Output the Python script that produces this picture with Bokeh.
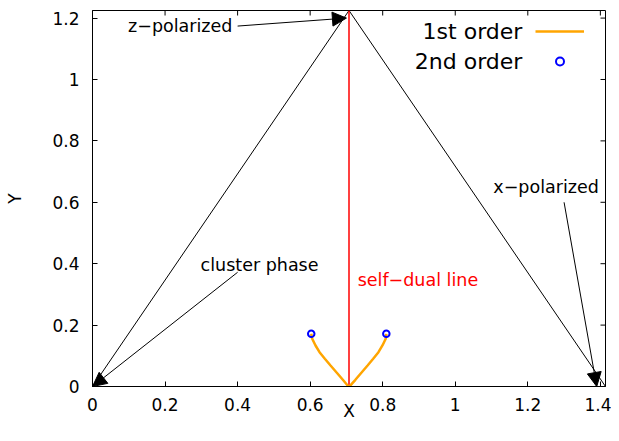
import math
from bokeh.plotting import figure
from bokeh.models import (Range1d, FixedTicker, Arrow, NormalHead,
                          ColumnDataSource, Legend, LegendItem)
from bokeh.core.properties import value
from bokeh.embed import file_html
from bokeh.resources import INLINE

# ---------------- data ----------------
x_max = 1.4142
y_max = 1.2247

triangle_x = [0.0, 0.7071, 1.4142]
triangle_y = [0.0, 1.2247, 0.0]

selfdual_x = [0.7071, 0.7071]
selfdual_y = [0.0, 1.2247]

first_left_x = [0.603, 0.6057, 0.6148, 0.6259, 0.6405, 0.6562, 0.6747, 0.6901, 0.705, 0.7071]
first_left_y = [0.1717, 0.1554, 0.1336, 0.1117, 0.0902, 0.0684, 0.0433, 0.0218, 0.001, 0.0]
first_right_x = [0.810, 0.8083, 0.7993, 0.7883, 0.7738, 0.7583, 0.7400, 0.7247, 0.7092, 0.7071]
first_right_y = [0.1717, 0.1554, 0.1336, 0.1117, 0.0902, 0.0684, 0.0433, 0.0218, 0.001, 0.0]

second_x = [0.603, 0.810]
second_y = [0.1717, 0.1717]

x_ticks = [0.0, 0.2, 0.4, 0.6, 0.8, 1.0, 1.2, 1.4]
x_tick_labels = ["0", "0.2", "0.4", "0.6", "0.8", "1", "1.2", "1.4"]
y_ticks = [0.0, 0.2, 0.4, 0.6, 0.8, 1.0, 1.2]
y_tick_labels = ["0", "0.2", "0.4", "0.6", "0.8", "1", "1.2"]

arrow_x_start = [0.40, 0.40, 1.30]
arrow_y_start = [1.174, 0.372, 0.60]
arrow_x_end = [0.70, 0.0, 1.39]
arrow_y_end = [1.20, 0.0, 0.0]

label_texts = ["z\u2212polarized", "cluster phase", "x\u2212polarized"]
label_x = [0.098, 0.298, 1.105]
label_y = [1.173, 0.397, 0.649]

selfdual_text = ["self\u2212dual line"]
selfdual_text_x = [0.731]
selfdual_text_y = [0.348]

legend_names = ["1st order", "2nd order"]
legend_text_x = [1.185, 1.185]
legend_text_y = [1.156, 1.059]

FONT = "DejaVu Sans"

# ---------------- figure ----------------
p = figure(width=611, height=425, output_backend="svg", toolbar_location=None,
           x_range=Range1d(0, x_max), y_range=Range1d(0, y_max),
           min_border_left=92, min_border_right=6, min_border_top=10, min_border_bottom=39)
p.grid.visible = False
p.outline_line_color = "black"
p.outline_line_width = 1
p.background_fill_color = "white"
p.border_fill_color = "white"

def style_axis(ax, ticks, labels):
    ax.ticker = FixedTicker(ticks=ticks)
    ax.major_label_overrides = {t: l for t, l in zip(ticks, labels)}
    ax.major_tick_in = 5
    ax.major_tick_out = 0
    ax.minor_tick_line_color = None
    ax.axis_line_color = "black"
    ax.major_tick_line_color = "black"
    ax.major_label_text_font = FONT
    ax.major_label_text_color = "black"
    ax.major_label_text_font_size = "17px"
    ax.axis_label_text_font = FONT
    ax.axis_label_text_font_size = "17px"
    ax.axis_label_text_font_style = "normal"
    ax.axis_label_text_color = "black"

style_axis(p.xaxis[0], x_ticks, x_tick_labels)
style_axis(p.yaxis[0], y_ticks, y_tick_labels)
p.xaxis[0].major_label_standoff = 11
p.yaxis[0].major_label_standoff = 13
p.xaxis[0].axis_label = "X"
p.xaxis[0].axis_label_standoff = -13
p.yaxis[0].axis_label = "Y"
p.yaxis[0].axis_label_standoff = 24

# mirrored inward ticks on top and right edges (clipped to the frame)
p.scatter(x_ticks, [y_max] * len(x_ticks), marker="dash", angle=math.pi / 2, size=10,
          line_color="black", line_width=1)
p.scatter([x_max] * len(y_ticks), y_ticks, marker="dash", size=10,
          line_color="black", line_width=1)

# triangle
p.line(triangle_x, triangle_y, line_color="black", line_width=1)
# self-dual line
p.line(selfdual_x, selfdual_y, line_color="#ff0000", line_width=1.5)

# 1st order curves
r_first = p.multi_line(xs=[first_left_x, first_right_x], ys=[first_left_y, first_right_y],
                       line_color="#ffa500", line_width=2.5)
# 2nd order points
r_second = p.scatter(second_x, second_y, marker="circle", size=6.5, fill_color=None,
                     line_color="#0000ff", line_width=2)

# arrows
arrow_src = ColumnDataSource(dict(x0=arrow_x_start, y0=arrow_y_start, x1=arrow_x_end, y1=arrow_y_end))
p.add_layout(Arrow(end=NormalHead(size=14, fill_color="black", line_color="black", line_width=1),
                   x_start="x0", y_start="y0", x_end="x1", y_end="y1", source=arrow_src,
                   line_color="black", line_width=1))

# labels
p.text(x=label_x, y=label_y, text=label_texts, text_font=value(FONT), text_font_size="17.5px",
       text_color="black", text_align="left", text_baseline="middle")
p.text(x=selfdual_text_x, y=selfdual_text_y, text=selfdual_text, text_font=value(FONT),
       text_font_size="17.5px", text_color="#ff0000", text_align="left", text_baseline="middle")

# legend: glyphs via Legend, text right-aligned to the left of the samples
legend = Legend(items=[LegendItem(label=" ", renderers=[r_first]),
                       LegendItem(label=" ", renderers=[r_second])],
                location="top_right", margin=0, padding=11, spacing=10,
                glyph_width=49, glyph_height=20, label_standoff=0, label_width=10,
                label_text_font_size="1px",
                background_fill_alpha=0, border_line_alpha=0)
p.add_layout(legend)
p.text(x=legend_text_x, y=legend_text_y, text=legend_names, text_font=value(FONT),
       text_font_size="22px", text_color="black", text_align="right", text_baseline="middle")

open("out.html", "w").write(file_html(p, INLINE))
